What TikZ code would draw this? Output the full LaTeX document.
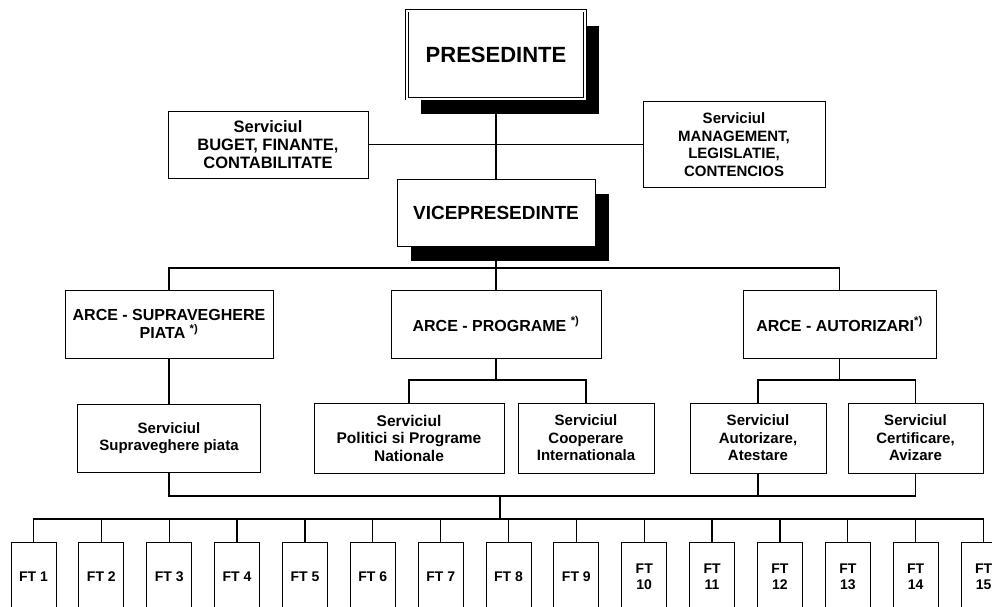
\documentclass[tikz,border=0pt]{standalone}
\usepackage{fontspec}
\setmainfont{Liberation Sans}
\usetikzlibrary{shadows,backgrounds}

\begin{document}
\begin{tikzpicture}[x=1pt,y=-1pt,
		box/.style={draw,fill=white,line width=0.8pt,align=center,inner sep=0pt,font=\bfseries\fontsize{15}{17.5}\selectfont},
		bigbox/.style={box,drop shadow={shadow xshift=14pt,shadow yshift=-15pt,fill=black,opacity=1}},
		ftbox/.style={box,minimum width=45pt,minimum height=70pt,font=\bfseries\fontsize{14}{16}\selectfont},
		link/.style={line width=1.3pt}]
			\useasboundingbox (0,0) rectangle (992,606);
			\clip (0,0) rectangle (992,606);
			% top
			\node[bigbox,double,double distance=2pt,line width=0.6pt,minimum width=178pt,minimum height=88pt,font=\bfseries\fontsize{22}{26}\selectfont] (pres) at (496,54.5) {PRESEDINTE};
			\node[box,minimum width=200pt,minimum height=67pt,font=\bfseries\fontsize{16.5}{18}\selectfont] (buget) at (268,144.5) {Serviciul\\BUGET, FINANTE,\\CONTABILITATE};
			\node[box,minimum width=182pt,minimum height=86pt] (mgmt) at (734,144.5) {Serviciul\\MANAGEMENT,\\LEGISLATIE,\\CONTENCIOS};
			\node[bigbox,minimum width=198pt,minimum height=67pt,font=\bfseries\fontsize{19}{22}\selectfont] (vice) at (496,212.5) {VICEPRESEDINTE};
			% ARCE
			\node[box,minimum width=208pt,minimum height=68pt,font=\bfseries\fontsize{16}{18.5}\selectfont] (arce1) at (169,324) {ARCE - SUPRAVEGHERE\\PIATA \textsuperscript{*)}};
			\node[box,minimum width=210pt,minimum height=68pt,font=\bfseries\fontsize{16}{18.5}\selectfont] (arce2) at (496,324) {ARCE - PROGRAME \textsuperscript{*)}};
			\node[box,minimum width=193pt,minimum height=68pt,font=\bfseries\fontsize{16}{18.5}\selectfont] (arce3) at (839.5,324) {ARCE - AUTORIZARI\textsuperscript{*)}};
			% servicii
			\node[box,minimum width=183pt,minimum height=68pt,font=\bfseries\fontsize{15}{17.5}\selectfont] (sv1) at (169,438) {Serviciul\\Supraveghere piata};
			\node[box,minimum width=190pt,minimum height=70pt,font=\bfseries\fontsize{15.5}{17.5}\selectfont] (sv2) at (409,438) {Serviciul\\Politici si Programe\\Nationale};
			\node[box,minimum width=136pt,minimum height=70pt,font=\bfseries\fontsize{15}{17.5}\selectfont] (sv3) at (586,438) {Serviciul\\Cooperare\\Internationala};
			\node[box,minimum width=136pt,minimum height=70pt,font=\bfseries\fontsize{15}{17.5}\selectfont] (sv4) at (758,438) {Serviciul\\Autorizare,\\Atestare};
			\node[box,minimum width=135pt,minimum height=70pt,font=\bfseries\fontsize{15}{17.5}\selectfont] (sv5) at (915.5,438) {Serviciul\\Certificare,\\Avizare};
			% FT
			\foreach \i in {1,...,15} {
				\pgfmathsetmacro\fx{33.5+67.86*(\i-1)}
				\ifnum\i<10 \def\ftlabel{FT \i}\else\def\ftlabel{FT\\\i}\fi
				\node[ftbox] (ft\i) at (\fx,577) {\ftlabel};
			}
			\coordinate (bar1) at (496,268);
			\coordinate (bar2) at (496,380);
			\coordinate (bar3) at (839.5,380);
			\coordinate (bar4) at (500,496);
			\coordinate (bar5) at (500,519);
			\begin{scope}[on background layer]
			\draw[link](pres)--(vice);
			\draw[link](buget.east)--(buget.east -| mgmt.west);
			\draw[link](vice)--(bar1);
			\draw[link](arce1.north)|-(bar1)-|(arce3.north);
			\draw[link](arce2)--(bar1);
			\draw[link](arce1)--(sv1);
			\draw[link](arce2)--(bar2);
			\draw[link](sv2.north)|-(bar2)-|(sv3.north);
			\draw[link](arce3)--(bar3);
			\draw[link](sv4.north)|-(bar3)-|(sv5.north);
			\draw[link](sv1.south)|-(bar4)-|(sv5.south);
			\draw[link](sv4.south)--(sv4.south |- bar4);
			\draw[link](bar4)--(bar5);
			\draw[link](ft1.north)|-(bar5)-|(ft15.north);
			\foreach \i in {2,...,14}
				\draw[link](ft\i.north)--(ft\i.north |- bar5);
			\end{scope}
		\end{tikzpicture}
\end{document}
